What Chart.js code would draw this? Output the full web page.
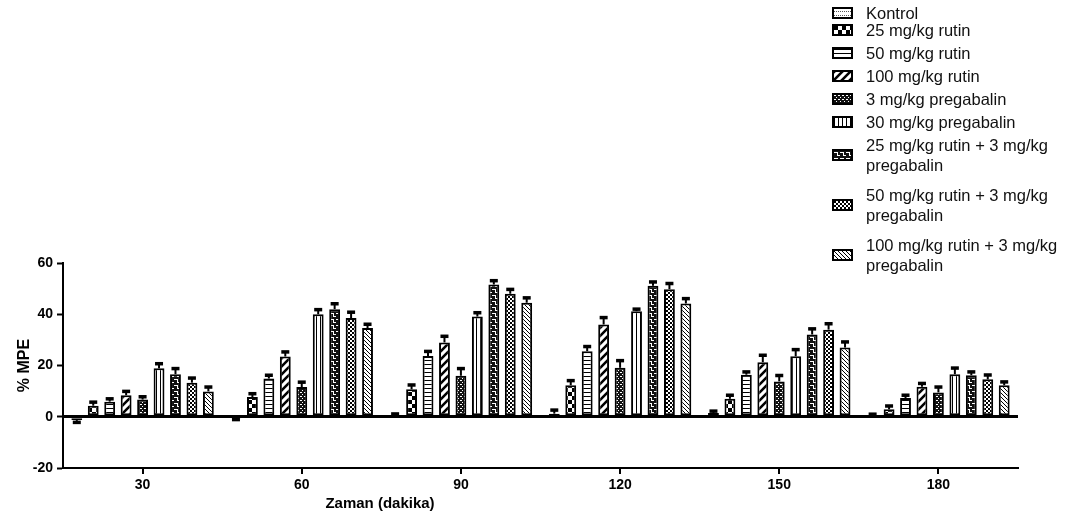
<!DOCTYPE html>
<html>
<head>
<meta charset="utf-8">
<script src="https://cdn.jsdelivr.net/npm/chart.js@4/dist/chart.umd.min.js"></script>
<style>
  html, body { margin: 0; padding: 0; background: #fff; }
  #wrap { position: relative; width: 1072px; height: 521px; }
  #c { position: absolute; left: 0; top: 0; }
  #legend { position: absolute; left: 832px; top: 3px; font-family: "Liberation Sans", Arial, sans-serif; font-size: 16.5px; line-height: 20px; color: #111; }
  .li { display: flex; align-items: center; margin-bottom: 3px; white-space: nowrap; }
  .li.first { margin-bottom: -3px; }
  .li.multi { margin-bottom: 10px; }
  .sw { width: 21px; height: 12px; border: 2px solid #000; box-sizing: border-box; margin-right: 13px; flex: none; }
  #xtitle { position: absolute; left: 380px; top: 502px; transform: translate(-50%, -50%); font-family: "Liberation Sans", Arial, sans-serif; font-weight: bold; font-size: 15px; color: #000; white-space: nowrap; }
</style>
</head>
<body>
<div id="wrap">
  <canvas id="c" width="1072" height="521"></canvas>
  <div id="legend"></div>
  <div id="xtitle">Zaman (dakika)</div>
</div>
<script>
// ---- data ----
const categories = ['30', '60', '90', '120', '150', '180'];
const seriesLabels = [
  'Kontrol',
  '25 mg/kg rutin',
  '50 mg/kg rutin',
  '100 mg/kg rutin',
  '3 mg/kg pregabalin',
  '30 mg/kg pregabalin',
  ['25 mg/kg rutin + 3 mg/kg', 'pregabalin'],
  ['50 mg/kg rutin + 3 mg/kg', 'pregabalin'],
  ['100 mg/kg rutin + 3 mg/kg', 'pregabalin']
];
const kontrol    = [-1.3, -0.4, 0.5, 1.2, 1.5, 0.4];
const kontrolErr = [1.0, 0.8, 0.5, 1.3, 0.6, 0.5];
const rutin25    = [4.3, 7.7, 10.7, 12.3, 7.0, 2.9];
const rutin25Err = [1.3, 1.2, 1.6, 1.7, 1.3, 1.2];
const rutin50    = [5.9, 14.9, 23.7, 25.6, 16.4, 7.3];
const rutin50Err = [1.0, 1.2, 1.7, 1.7, 1.0, 1.0];
const rutin100    = [8.4, 23.5, 29.0, 36.0, 21.3, 11.7];
const rutin100Err = [1.4, 1.7, 2.3, 2.6, 2.6, 1.2];
const preg3    = [6.7, 11.6, 16.0, 19.1, 13.8, 9.5];
const preg3Err = [1.0, 1.8, 2.7, 2.7, 2.2, 2.0];
const preg30    = [18.9, 40.0, 39.1, 41.2, 23.6, 16.6];
const preg30Err = [1.7, 1.7, 1.4, 0.7, 2.5, 2.3];
const r25p3    = [16.6, 42.0, 51.6, 51.1, 32.1, 16.2];
const r25p3Err = [2.1, 2.0, 1.4, 1.4, 2.1, 1.2];
const r50p3    = [13.3, 38.5, 48.0, 49.8, 34.0, 14.6];
const r50p3Err = [1.7, 2.2, 1.6, 2.1, 2.2, 1.6];
const r100p3    = [9.9, 34.6, 44.5, 44.2, 27.0, 12.3];
const r100p3Err = [1.6, 1.4, 1.8, 1.8, 2.1, 1.2];
const yTicks = { min: -20, max: 60, step: 20 };

const seriesValues = [kontrol, rutin25, rutin50, rutin100, preg3, preg30, r25p3, r50p3, r100p3];
const seriesErrors = [kontrolErr, rutin25Err, rutin50Err, rutin100Err, preg3Err, preg30Err, r25p3Err, r50p3Err, r100p3Err];

// ---- patterns ----
function tile(w, h, draw) {
  const t = document.createElement('canvas');
  t.width = w; t.height = h;
  const g = t.getContext('2d');
  draw(g, w, h);
  return t;
}
const tiles = [
  tile(4, 4, (g) => { g.fillStyle = '#fff'; g.fillRect(0, 0, 4, 4); g.fillStyle = '#555'; g.fillRect(0, 2, 1, 1); g.fillRect(2, 2, 1, 1); }),
  tile(8, 8, (g) => { g.fillStyle = '#fff'; g.fillRect(0, 0, 8, 8); g.fillStyle = '#000'; g.fillRect(0, 0, 4, 4); g.fillRect(4, 4, 4, 4); }),
  tile(4, 4, (g) => { g.fillStyle = '#fff'; g.fillRect(0, 0, 4, 4); g.fillStyle = '#000'; g.fillRect(0, 0, 4, 1); }),
  tile(8, 8, (g) => { g.fillStyle = '#fff'; g.fillRect(0, 0, 8, 8); g.strokeStyle = '#000'; g.lineWidth = 2.6;
    g.beginPath(); g.moveTo(-2, 10); g.lineTo(10, -2); g.moveTo(-6, 6); g.lineTo(6, -6); g.moveTo(2, 14); g.lineTo(14, 2); g.stroke(); }),
  tile(4, 4, (g) => { g.fillStyle = '#111'; g.fillRect(0, 0, 4, 4); g.fillStyle = '#fff'; g.fillRect(0, 0, 2, 1); g.fillRect(2, 2, 1, 1); }),
  tile(4, 4, (g) => { g.fillStyle = '#fff'; g.fillRect(0, 0, 4, 4); g.fillStyle = '#000'; g.fillRect(0, 0, 1, 4); }),
  tile(6, 6, (g) => { g.fillStyle = '#111'; g.fillRect(0, 0, 6, 6); g.fillStyle = '#fff';
    g.fillRect(0, 1, 4, 1); g.fillRect(3, 1, 1, 3); g.fillRect(3, 4, 3, 1); }),
  tile(4, 4, (g) => { g.fillStyle = '#fff'; g.fillRect(0, 0, 4, 4); g.fillStyle = '#000'; g.fillRect(0, 0, 2, 2); g.fillRect(2, 2, 2, 2); }),
  tile(4, 4, (g) => { g.fillStyle = '#fff'; g.fillRect(0, 0, 4, 4); g.strokeStyle = '#000'; g.lineWidth = 1;
    g.beginPath(); g.moveTo(-1, -1); g.lineTo(5, 5); g.moveTo(-1, 3); g.lineTo(1, 5); g.moveTo(3, -1); g.lineTo(5, 1); g.stroke(); })
];
const ctx = document.getElementById('c').getContext('2d');
const patterns = tiles.map(t => ctx.createPattern(t, 'repeat'));

const datasets = seriesValues.map((vals, i) => ({
  label: seriesLabels[i],
  data: vals,
  errors: seriesErrors[i],
  backgroundColor: patterns[i],
  borderColor: '#000',
  borderWidth: 2,
  borderSkipped: false,
  categoryPercentage: 0.93,
  barPercentage: 0.66
}));

// ---- error bars ----
const errorBars = {
  id: 'errorBars',
  afterDatasetsDraw(chart) {
    const c = chart.ctx;
    const y = chart.scales.y;
    c.save();
    c.strokeStyle = '#000';
    c.fillStyle = '#000';
    c.lineWidth = 2;
    chart.data.datasets.forEach((ds, di) => {
      const meta = chart.getDatasetMeta(di);
      meta.data.forEach((bar, j) => {
        const v = ds.data[j], e = ds.errors[j];
        const end = y.getPixelForValue(v < 0 ? v - e : v + e);
        const start = y.getPixelForValue(v);
        c.beginPath();
        c.moveTo(bar.x, start);
        c.lineTo(bar.x, end);
        c.stroke();
        c.fillRect(bar.x - 4, end - 2, 8, 3.5);
      });
    });
    c.restore();
  }
};

// ---- html legend ----
const htmlLegend = {
  id: 'htmlLegend',
  afterUpdate(chart) {
    const box = document.getElementById('legend');
    box.innerHTML = '';
    chart.data.datasets.forEach((ds, i) => {
      const item = document.createElement('div');
      const lines = Array.isArray(ds.label) ? ds.label : [ds.label];
      item.className = 'li' + (i === 0 ? ' first' : '') + (lines.length > 1 ? ' multi' : '');
      const sw = document.createElement('div');
      sw.className = 'sw';
      sw.style.backgroundImage = 'url(' + tiles[i].toDataURL() + ')';
      const txt = document.createElement('div');
      lines.forEach((ln, k) => {
        if (k) txt.appendChild(document.createElement('br'));
        txt.appendChild(document.createTextNode(ln));
      });
      item.appendChild(sw);
      item.appendChild(txt);
      box.appendChild(item);
    });
  }
};

const tickFont = { family: 'Liberation Sans, Arial, sans-serif', size: 14, weight: 'bold' };

new Chart(ctx, {
  type: 'bar',
  data: { labels: categories, datasets },
  plugins: [errorBars, htmlLegend],
  options: {
    responsive: false,
    animation: false,
    layout: { padding: { top: 263, right: 54, left: 0, bottom: 0 } },
    plugins: { legend: { display: false }, tooltip: { enabled: false } },
    scales: {
      x: {
        grid: { display: true, drawOnChartArea: false, offset: false, color: '#000', tickLength: 6, lineWidth: 2 },
        border: { display: true, color: '#000', width: 2 },
        ticks: { color: '#000', font: tickFont, padding: 3 },
        afterFit: (s) => { s.height = 53; }
      },
      y: {
        min: yTicks.min, max: yTicks.max,
        ticks: { stepSize: yTicks.step, color: '#000', font: tickFont, padding: 4 },
        grid: {
          color: (c) => (c.tick && c.tick.value === 0 ? '#000' : 'rgba(0,0,0,0)'),
          lineWidth: (c) => (c.tick && c.tick.value === 0 ? 3 : 1),
          tickColor: '#000', tickWidth: 2, tickLength: 6
        },
        border: { display: true, color: '#000', width: 2 },
        title: { display: true, text: '% MPE', color: '#000', padding: { top: 15, bottom: 0 },
          font: { family: 'Liberation Sans, Arial, sans-serif', size: 16, weight: 'bold' } },
        afterFit: (s) => { s.width = 63; }
      }
    }
  }
});
</script>
</body>
</html>
